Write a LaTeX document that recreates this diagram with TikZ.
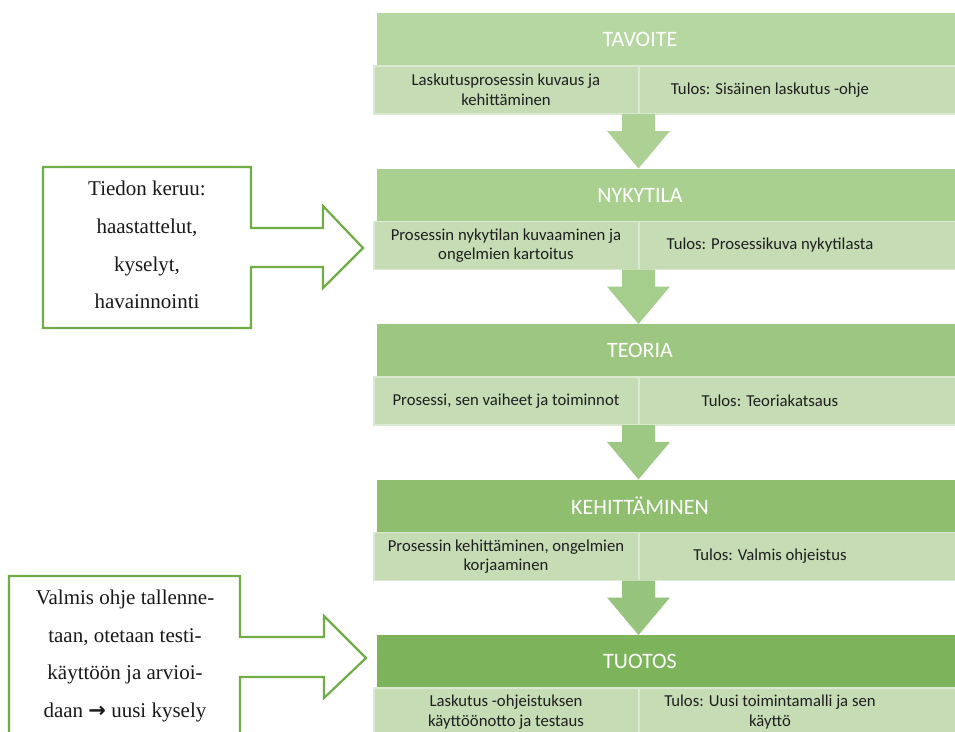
\documentclass[tikz,border=0pt]{standalone}
\usepackage{fontspec}
\setmainfont{Liberation Serif}
\newfontfamily\calfont{Carlito}
\newfontfamily\dvfont{DejaVu Sans}
\definecolor{hA}{HTML}{B6D7A1}
\definecolor{hB}{HTML}{A9D08E}
\definecolor{hC}{HTML}{9DC680}
\definecolor{hD}{HTML}{8EBE6E}
\definecolor{hE}{HTML}{7DB35A}
\definecolor{subcol}{HTML}{C5DCB5}
\definecolor{subline}{HTML}{DCE9D2}
\definecolor{arA}{HTML}{ADD195}
\definecolor{arB}{HTML}{A5CD8B}
\definecolor{arC}{HTML}{9DC883}
\definecolor{arD}{HTML}{97C47C}
\definecolor{cgreen}{HTML}{70AD47}
\begin{document}
\begin{tikzpicture}[x=1pt,y=-1pt,
  headtxt/.style={text=white, font=\calfont\fontsize{22}{26}\selectfont, inner sep=0pt},
  subbox/.style={fill=subcol, draw=subline, line width=1.5pt},
  subtxt/.style={align=center, font=\calfont\fontsize{16.7}{19.5}\selectfont, text=black!88, inner sep=0pt},
  callout/.style={draw=cgreen, line width=2.2pt, fill=white, line join=miter},
  ctext/.style={align=center, font=\fontsize{21}{37.7}\selectfont, text=black!90, inner sep=0pt}]
\clip (0,0) rectangle (955,731);
\fill[white] (0,0) rectangle (955,731);

% ---- Row A: TAVOITE
\fill[hA] (377,13) rectangle (955,66);
\node[headtxt] (hA) at (640,39.5) {TAVOITE};
\filldraw[subbox] (374,66) rectangle (639,114);
\filldraw[subbox] (639,66) rectangle (960,114);
\node[subtxt] (sA1) at (506,90) {Laskutusprosessin kuvaus ja\\kehittäminen};
\node[subtxt] (sA2) at (770,90) {Tulos: Sisäinen laskutus -ohje};
\fill[arA] (622,114) -- (655,114) -- (655,131) -- (670,131) -- (638.5,168.5) -- (607,131) -- (622,131) -- cycle;

% ---- Row B: NYKYTILA
\fill[hB] (377,168.5) rectangle (955,221.5);
\node[headtxt] (hB) at (640,195) {NYKYTILA};
\filldraw[subbox] (374,221.5) rectangle (639,269.5);
\filldraw[subbox] (639,221.5) rectangle (960,269.5);
\node[subtxt] (sB1) at (506,245.5) {Prosessin nykytilan kuvaaminen ja\\ongelmien kartoitus};
\node[subtxt] (sB2) at (770,245.5) {Tulos: Prosessikuva nykytilasta};
\fill[arB] (622,269.5) -- (655,269.5) -- (655,286.5) -- (670,286.5) -- (638.5,324) -- (607,286.5) -- (622,286.5) -- cycle;

% ---- Row C: TEORIA
\fill[hC] (377,324) rectangle (955,377);
\node[headtxt] (hC) at (640,350.5) {TEORIA};
\filldraw[subbox] (374,377) rectangle (639,425);
\filldraw[subbox] (639,377) rectangle (960,425);
\node[subtxt] (sC1) at (506,401) {Prosessi, sen vaiheet ja toiminnot};
\node[subtxt] (sC2) at (770,401) {Tulos: Teoriakatsaus};
\fill[arC] (622,425) -- (655,425) -- (655,442) -- (670,442) -- (638.5,479.5) -- (607,442) -- (622,442) -- cycle;

% ---- Row D: KEHITTÄMINEN
\fill[hD] (377,479.5) rectangle (955,532.5);
\node[headtxt] (hD) at (640,506) {KEHITTÄMINEN};
\filldraw[subbox] (374,532.5) rectangle (639,580.5);
\filldraw[subbox] (639,532.5) rectangle (960,580.5);
\node[subtxt] (sD1) at (506,556.5) {Prosessin kehittäminen, ongelmien\\korjaaminen};
\node[subtxt] (sD2) at (770,556.5) {Tulos: Valmis ohjeistus};
\fill[arD] (622,580.5) -- (655,580.5) -- (655,597.5) -- (670,597.5) -- (638.5,635) -- (607,597.5) -- (622,597.5) -- cycle;

% ---- Row E: TUOTOS
\fill[hE] (377,635) rectangle (955,688);
\node[headtxt] (hE) at (640,661.5) {TUOTOS};
\filldraw[subbox] (374,688) rectangle (639,740);
\filldraw[subbox] (639,688) rectangle (960,740);
\node[subtxt] (sE1) at (506,712) {Laskutus -ohjeistuksen\\käyttöönotto ja testaus};
\node[subtxt] (sE2) at (770,712) {Tulos: Uusi toimintamalli ja sen\\käyttö};

% ---- Callout 1
\draw[callout] (43,167) -- (251,167) -- (251,228) -- (323,228) -- (323,206) -- (363,248)
  -- (323,288) -- (323,267) -- (251,267) -- (251,328) -- (43,328) -- cycle;
\node[ctext] (c1) at (147,245) {Tiedon keruu:\\haastattelut,\\kyselyt,\\havainnointi};

% ---- Callout 2
\draw[callout] (9,576) -- (240,576) -- (240,637) -- (324,637) -- (324,616) -- (366,658)
  -- (324,698) -- (324,677) -- (240,677) -- (240,745) -- (9,745) -- cycle;
\node[ctext] (c2) at (125,656) {Valmis ohje tallenne-\\taan, otetaan testi-\\käyttöön ja arvioi-\\daan {\dvfont\bfseries →} uusi kysely};
\end{tikzpicture}
\end{document}
